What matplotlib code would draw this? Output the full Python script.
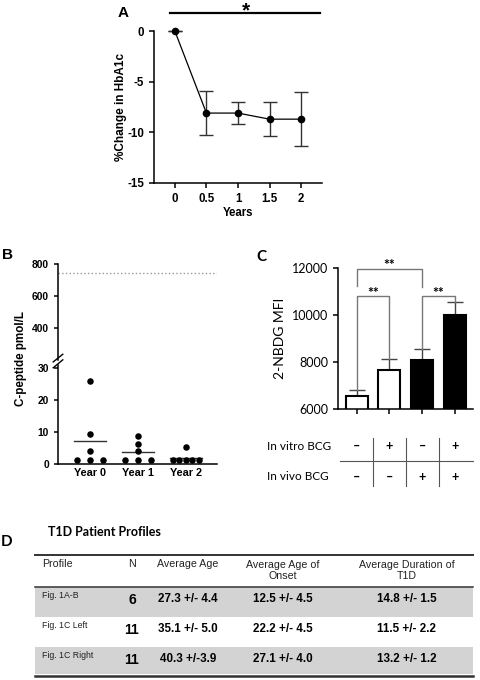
import numpy as np
import matplotlib.pyplot as plt
from matplotlib import transforms
from matplotlib.patches import Rectangle

plt.rcParams['font.family'] = ['Liberation Sans', 'DejaVu Sans']
plt.rcParams['axes.unicode_minus'] = False

W, H = 481, 680

# ---- Panel A: %change in HbA1c
years = [0, 0.5, 1, 1.5, 2]
hba1c_change = [0, -8.1, -8.1, -8.7, -8.7]
hba1c_err = [0, 2.15, 1.05, 1.65, 2.65]

# ---- Panel B: C-peptide
cpep_groups = ['Year 0', 'Year 1', 'Year 2']
cpep_year0 = [26.0, 9.3, 4.0, 1.35, 1.35, 1.35]
cpep_year1 = [8.65, 6.15, 4.0, 1.35, 1.35, 1.35]
cpep_year2 = [5.3, 1.35, 1.35, 1.35, 1.35, 1.35]
cpep_ref = 744

# ---- Panel C: 2-NBDG MFI
mfi_means = [6560, 7670, 8100, 10000]
mfi_err = [260, 460, 450, 580]
mfi_fill = ['white', 'white', 'black', 'black']
invitro_bcg = ['\u2013', '+', '\u2013', '+']
invivo_bcg = ['\u2013', '\u2013', '+', '+']
sig_pairs = [(0, 2), (0, 1), (2, 3)]
sig_labels = ['**', '**', '**']

# ---- Panel D: patient profiles
tbl_header = ['Profile', 'N', 'Average Age', 'Average Age of\nOnset',
              'Average Duration of\nT1D']
tbl_profile = ['Fig. 1A-B', 'Fig. 1C Left', 'Fig. 1C Right']
tbl_n = ['6', '11', '11']
tbl_age = ['27.3 +/- 4.4', '35.1 +/- 5.0', '40.3 +/-3.9']
tbl_onset = ['12.5 +/- 4.5', '22.2 +/- 4.5', '27.1 +/- 4.0']
tbl_duration = ['14.8 +/- 1.5', '11.5 +/- 2.2', '13.2 +/- 1.2']


def box(x0, y0, x1, y1):
    # pixel box (origin top-left) -> figure fraction rect
    return [x0 / W, 1 - y1 / H, (x1 - x0) / W, (y1 - y0) / H]


def fx(x):
    return x / W


def fy(y):
    return 1 - y / H


fig = plt.figure(figsize=(W / 100, H / 100), dpi=100)
CAL = ['Lato', 'DejaVu Sans']

# ================= A =================
axa = fig.add_axes(box(154, 31, 322, 183))
axa.errorbar(years, hba1c_change, yerr=hba1c_err, fmt='o-', color='black',
             ms=4.5, lw=0.9, ecolor='#333333', elinewidth=1.0, capsize=5,
             capthick=1.0, clip_on=False, zorder=3)
axa.set_xlim(-0.33, 2.33)
axa.set_ylim(-15, 0)
axa.set_yticks([0, -5, -10, -15])
axa.set_xticks(years)
axa.set_xticklabels(['0', '0.5', '1', '1.5', '2'])
for s in ['top', 'right']:
    axa.spines[s].set_visible(False)
for s in ['left', 'bottom']:
    axa.spines[s].set_linewidth(1.1)
axa.tick_params(width=1.1, length=3.5, labelsize=8.3)
for lab in axa.get_xticklabels() + axa.get_yticklabels():
    lab.set_fontweight('bold')
axa.set_ylabel('%Change in HbA1c', fontsize=8.5, fontweight='bold', labelpad=0)
axa.set_xlabel('Years', fontsize=8.3, fontweight='bold', labelpad=2)
axa.plot([-0.08, 2.3], [1.78, 1.78], color='black', lw=1.6, clip_on=False)
axa.text(1.12, 1.45, '*', ha='center', va='baseline', fontsize=15,
         fontweight='bold')
fig.text(fx(118), fy(13), 'A', fontsize=11, fontweight='bold', va='center')

# ================= B =================
axb_top = fig.add_axes(box(58, 264, 217, 360))
axb_bot = fig.add_axes(box(58, 364.8, 217, 464))
for ax in (axb_top, axb_bot):
    ax.set_xlim(-0.67, 2.65)
    for s in ['top', 'right']:
        ax.spines[s].set_visible(False)
    ax.spines['left'].set_linewidth(1.1)
    ax.tick_params(width=1.1, length=3, labelsize=7.4)
axb_top.spines['bottom'].set_visible(False)
axb_top.set_xticks([])
axb_top.set_ylim(200, 800)
axb_top.set_yticks([400, 600, 800])
axb_top.axhline(cpep_ref, color='#999999', ls=':', lw=1.0)

axb_bot.set_ylim(0, 31)
axb_bot.set_yticks([0, 10, 20, 30])
axb_bot.spines['bottom'].set_linewidth(1.1)
axb_bot.set_xticks(range(len(cpep_groups)))
axb_bot.set_xticklabels(cpep_groups)
axb_bot.tick_params(axis='x', length=0, pad=3, labelsize=7.8)

spread = 0.27
for i, vals in enumerate([cpep_year0, cpep_year1, cpep_year2]):
    vals = np.array(vals)
    xs = np.zeros(len(vals))
    for v in np.unique(vals):
        idx = np.where(vals == v)[0]
        if len(idx) > 1:
            xs[idx] = np.linspace(-spread, spread, len(idx))
    axb_bot.scatter(i + xs, vals, s=22, color='black', zorder=3,
                    clip_on=False, linewidths=0)
    axb_bot.plot([i - 0.33, i + 0.33], [vals.mean()] * 2, color='#333333',
                 lw=1.0, zorder=2)
for lab in axb_bot.get_xticklabels() + axb_bot.get_yticklabels() + \
        axb_top.get_yticklabels():
    lab.set_fontweight('bold')

# axis break marks
kw = dict(color='black', lw=1.0, clip_on=False)
axb_top.plot([-0.03, 0.03], [-0.02, 0.06], transform=axb_top.transAxes, **kw)
axb_bot.plot([-0.03, 0.03], [0.97, 1.05], transform=axb_bot.transAxes, **kw)
fig.text(fx(21), fy(359), 'C-peptide pmol/L', rotation=90, fontsize=8.4,
         fontweight='bold', ha='center', va='center')
fig.text(fx(2), fy(255), 'B', fontsize=11, fontweight='bold', va='center')

# ================= C =================
axc = fig.add_axes(box(337.7, 268.3, 472.7, 409.3))
xc = np.arange(len(mfi_means))
axc.bar(xc, mfi_means, width=0.67, color=mfi_fill, edgecolor='black',
        lw=1.5, zorder=2)
axc.errorbar(xc, mfi_means, yerr=[np.zeros(len(mfi_err)), mfi_err],
             fmt='none', ecolor='#444444', elinewidth=1.0, capsize=5.5,
             capthick=1.0, zorder=1)
axc.set_xlim(-0.58, 3.54)
axc.set_ylim(6000, 12000)
axc.set_yticks([6000, 8000, 10000, 12000])
axc.set_xticks(xc)
axc.set_xticklabels([])
for s in ['top', 'right']:
    axc.spines[s].set_visible(False)
for s in ['left', 'bottom']:
    axc.spines[s].set_linewidth(1.1)
axc.tick_params(width=1.1, length=3.5, labelsize=9)
for lab in axc.get_yticklabels():
    lab.set_family(CAL)
axc.set_ylabel('2-NBDG MFI', fontsize=10, family=CAL, labelpad=4)

# significance brackets: (top, left leg bottom, right leg bottom)
tops = [11990, 10830, 10830]
legs = [(11250, 11220), (6820, 8130), (8565, 10580)]
for (i, j), lab, top, (l0, l1) in zip(sig_pairs, sig_labels, tops, legs):
    axc.plot([i, i, j, j], [l0, top, top, l1], color='#777777', lw=1.0,
             clip_on=False, zorder=3)
    axc.text((i + j) / 2, top - 120, lab, ha='center', va='bottom',
             fontsize=10, family=CAL, fontweight='bold')

tr = transforms.blended_transform_factory(axc.transData, fig.transFigure)
fig.text(fx(267), fy(446), 'In vitro BCG', fontsize=8.5, family=CAL,
         va='center')
fig.text(fx(267), fy(477), 'In vivo BCG', fontsize=8.5, family=CAL,
         va='center')
for k in range(len(mfi_means)):
    axc.text(k, fy(446), invitro_bcg[k], transform=tr, ha='center',
             va='center', fontsize=9, family=CAL, fontweight='bold')
    axc.text(k, fy(477), invivo_bcg[k], transform=tr, ha='center',
             va='center', fontsize=9, family=CAL, fontweight='bold')
for k in range(len(mfi_means) - 1):
    axc.plot([k + 0.5, k + 0.5], [fy(438), fy(486)], transform=tr,
             color='#555555', lw=0.8, clip_on=False)
axc.plot([-0.51, 3.54], [fy(460.7), fy(460.7)], transform=tr,
         color='#555555', lw=0.8, clip_on=False)
fig.text(fx(256), fy(257), 'C', fontsize=11, fontweight='bold',
         family=CAL, va='center')

# ================= D =================
axd = fig.add_axes([0, 0, 1, 1], zorder=-1)
axd.set_xlim(0, W)
axd.set_ylim(H, 0)
axd.axis('off')

fig.text(fx(1), fy(542), 'D', fontsize=11, fontweight='bold', family=CAL,
         va='center')
fig.text(fx(48), fy(532), 'T1D Patient Profiles', fontsize=9,
         fontweight='bold', family=CAL, va='center')

t_left, t_right = 35, 473
row_edges = [587, 617, 647, 674]
for r in range(len(tbl_profile)):
    if r % 2 == 0:
        axd.add_patch(Rectangle((t_left, row_edges[r]), t_right - t_left,
                                row_edges[r + 1] - row_edges[r],
                                color='#d3d3d3', lw=0))
axd.plot([t_left, t_right], [554.5, 554.5], color='#333333', lw=1.4)
axd.plot([t_left, t_right], [587, 587], color='#333333', lw=1.1)
axd.plot([t_left, t_right], [676, 676], color='#333333', lw=1.8)

col_x = [41.7, 132, 188, 283, 407]
axd.text(col_x[0], 564, tbl_header[0], ha='left', va='center', fontsize=7.7,
         color='#222222')
for c in range(1, 5):
    axd.text(col_x[c], 570.5 if '\n' in tbl_header[c] else 564,
             tbl_header[c], ha='center', va='center', fontsize=7.7,
             linespacing=1.1, color='#222222')

for r in range(len(tbl_profile)):
    yc = row_edges[r] + 12
    axd.text(col_x[0], row_edges[r] + 8.5, tbl_profile[r], ha='left',
             va='center', fontsize=6.3, color='#222222')
    axd.text(col_x[1], yc + 0.5, tbl_n[r], ha='center', va='center',
             fontsize=10, fontweight='bold')
    for c, col in zip(col_x[2:], [tbl_age, tbl_onset, tbl_duration]):
        axd.text(c, yc, col[r], ha='center', va='center', fontsize=8.4,
                 fontweight='bold')

fig.savefig('out.png', dpi=100)
